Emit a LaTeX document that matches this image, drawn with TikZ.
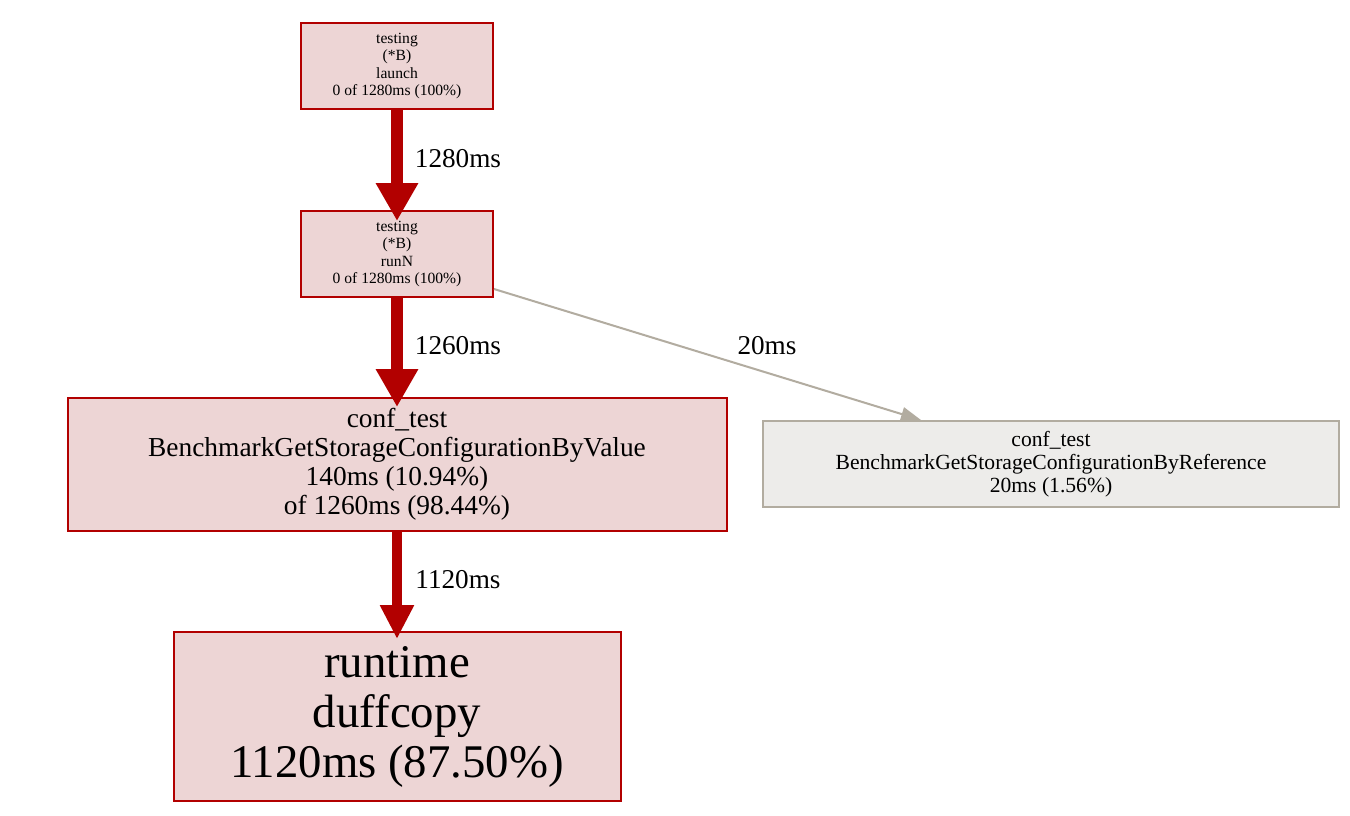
\documentclass[tikz,border=0pt]{standalone}
\usepackage{fontspec}
\setmainfont{Liberation Serif}
\usetikzlibrary{arrows.meta}
\definecolor{pred}{HTML}{B20000}
\definecolor{pfill}{HTML}{EDD5D5}
\definecolor{gline}{HTML}{B2ACA0}
\definecolor{gfill}{HTML}{EDECEA}
\begin{document}
\begin{tikzpicture}[x=0.5pt,y=-0.5pt,
  redbox/.style={draw=pred, fill=pfill, line width=1pt, inner sep=0pt, align=center},
  greybox/.style={draw=gline, fill=gfill, line width=1pt, inner sep=0pt, align=center},
  smalltxt/.style={font=\fontsize{7.8pt}{8.75pt}\selectfont},
  midtxt/.style={font=\fontsize{13.7pt}{14.5pt}\selectfont},
  greytxt/.style={font=\fontsize{10.8pt}{11.5pt}\selectfont},
  bigtxt/.style={font=\fontsize{23.4pt}{25pt}\selectfont},
  elabel/.style={font=\fontsize{13.6pt}{14.5pt}\selectfont, inner sep=0pt},
  redarrow/.style={draw=pred, line width=6.25pt, -{Triangle[width=20pt,length=19pt]}},
  redarrowthin/.style={draw=pred, line width=5pt, -{Triangle[width=16pt,length=17pt]}},
  greyarrow/.style={draw=gline, line width=1pt, -{Triangle[width=7pt,length=10pt]}}
]
\useasboundingbox (0,0) rectangle (1350,815);
\fill[white] (0,0) rectangle (1350,815);

\node[redbox, smalltxt, minimum width=96pt, minimum height=43pt] (launch) at (397,66)
  {testing\\(*B)\\launch\\0 of 1280ms (100\%)};
\node[redbox, smalltxt, minimum width=96pt, minimum height=43pt] (runN) at (397,254)
  {testing\\(*B)\\runN\\0 of 1280ms (100\%)};
\node[redbox, midtxt, minimum width=329.5pt, minimum height=66.5pt] (byval) at (397,464.5)
  {conf\_test\\BenchmarkGetStorageConfigurationByValue\\140ms (10.94\%)\\of 1260ms (98.44\%)};
\node[greybox, greytxt, minimum width=288pt, minimum height=43pt] (byref) at (1051,464)
  {conf\_test\\BenchmarkGetStorageConfigurationByReference\\20ms (1.56\%)};
\node[redbox, bigtxt, minimum width=223.5pt, minimum height=84.5pt] (duff) at (397,716.5)
  {\raisebox{-1.5pt}{\parbox{223pt}{\centering runtime\\duffcopy\\1120ms (87.50\%)}}};

\draw[redarrow, shorten >=-5.5pt] (launch.south) -- (runN.north);
\draw[redarrow, shorten >=-5pt] (runN.south) -- (byval.north);
\draw[redarrowthin, shorten >=-4pt] (byval.south) -- (duff.north);
\draw[greyarrow] ([yshift=4.5pt]runN.south east) -- ([xshift=-65pt]byref.north);

\node[elabel] (l1) at (458,159) {1280ms};
\node[elabel] (l2) at (458,346) {1260ms};
\node[elabel] (l3) at (767,346) {20ms};
\node[elabel] (l4) at (458,580) {1120ms};
\end{tikzpicture}
\end{document}
